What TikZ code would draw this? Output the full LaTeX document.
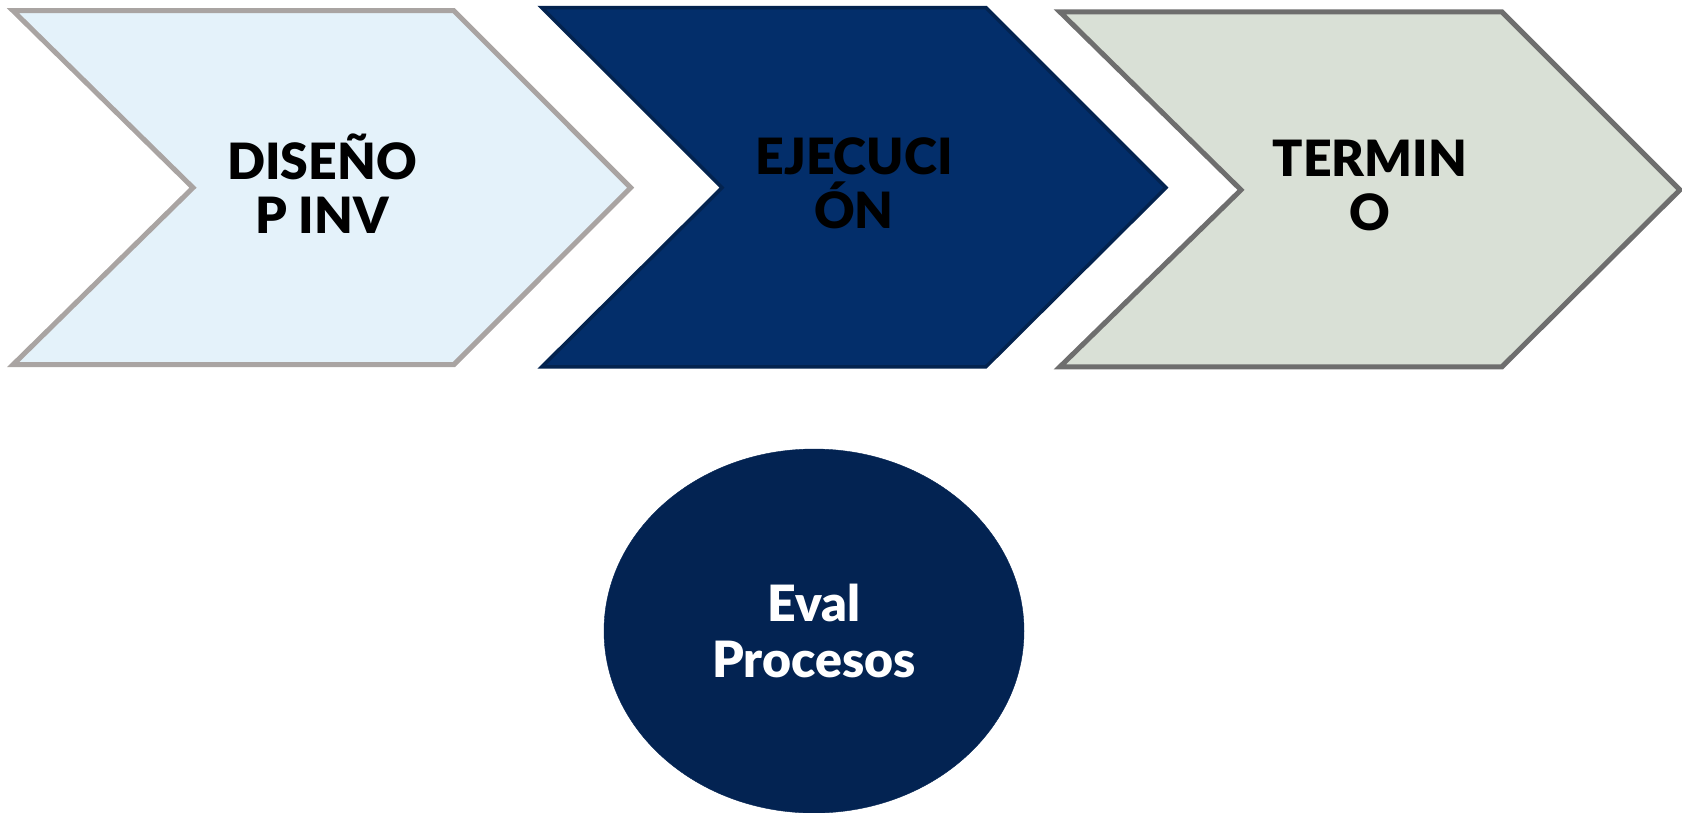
\documentclass[tikz,border=0pt]{standalone}
\usepackage{fontspec}
\setmainfont{Lato}[BoldFont={Lato Black}]
\usetikzlibrary{shapes.geometric}
\definecolor{c1fill}{HTML}{E4F2FA}
\definecolor{c1line}{HTML}{A9A4A2}
\definecolor{c2fill}{HTML}{032E6A}
\definecolor{c2line}{HTML}{03234F}
\definecolor{c3fill}{HTML}{D9E0D6}
\definecolor{c3line}{HTML}{6E6E6E}
\definecolor{evfill}{HTML}{032352}
\tikzset{
  chev/.style={line width=5pt, line join=miter},
  lbl/.style={font=\fontsize{50}{54}\selectfont\bfseries, align=center, text=black, inner sep=0pt, yshift=4pt},
  evlbl/.style={ellipse, fill=evfill, draw=evfill, minimum width=420pt, minimum height=364pt,
    font=\fontsize{50}{56}\selectfont\bfseries, align=center, text=white, inner sep=0pt}
}
\begin{document}
\begin{tikzpicture}[x=1pt,y=1pt]
\useasboundingbox (0,0) rectangle (1682,-812);
% chevron 1
\draw[chev, fill=c1fill, draw=c1line] (13,-10.7) -- (453.8,-10.7) -- (630.7,-187.7) -- (453.8,-364.7) -- (13,-364.7) -- (193,-187.7) -- cycle;
\node[lbl] (d) at (322,-187.7) {DISEÑO\\P INV};
% chevron 2
\draw[chev, line width=3.5pt, fill=c2fill, draw=c2line] (541.7,-7.5) -- (985.8,-7.5) -- (1166,-187.7) -- (985.8,-366.9) -- (541.7,-366.9) -- (722,-187.7) -- cycle;
\node[lbl] (e) at (854,-187.7) {EJECUCI\\ÓN};
% chevron 3
\draw[chev, fill=c3fill, draw=c3line] (1059.8,-11.8) -- (1501.8,-11.8) -- (1679.9,-189.9) -- (1501.8,-366.9) -- (1059.8,-366.9) -- (1241,-189.9) -- cycle;
\node[lbl] (t) at (1370,-189.9) {TERMIN\\O};
% ellipse
\node[evlbl] (ev) at (814,-631) {Eval\\Procesos};
\end{tikzpicture}
\end{document}
